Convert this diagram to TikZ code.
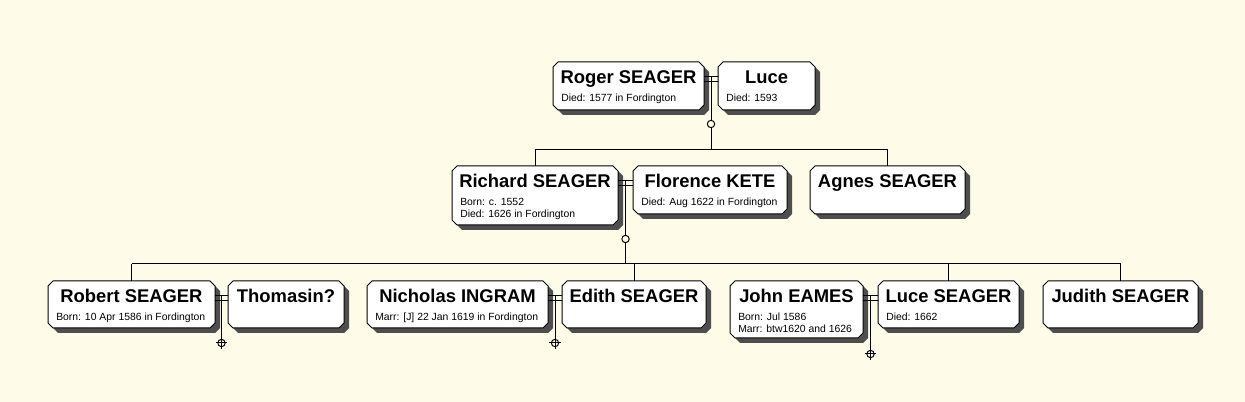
\documentclass[tikz,border=0pt]{standalone}
\usepackage{fontspec}
\setmainfont{Liberation Sans}
\usetikzlibrary{shadows, calc}

\definecolor{bg}{HTML}{FEFBE8}
\definecolor{shade}{HTML}{4E4E4E}

\newcommand\namefont{\fontsize{13.8}{16}\selectfont\bfseries}
\newcommand\infofont{\fontsize{7.8}{9}\selectfont}

% person card: id, left, top, width, height, name, details
\newcommand\person[7]{%
  \node[cardbox, minimum width=#4*0.75pt, minimum height=#5*0.75pt] (#1) at (#2+#4/2,#3+#5/2) {};
  \filldraw[card] ($(#1.north west)+(5,0)$) -- ($(#1.north east)+(-5,0)$) -- ($(#1.north east)+(0,5)$)
    -- ($(#1.south east)+(0,-5)$) -- ($(#1.south east)+(-5,0)$) -- ($(#1.south west)+(5,0)$)
    -- ($(#1.south west)+(0,-5)$) -- ($(#1.north west)+(0,5)$) -- cycle;
  \node[pname, anchor=base] (#1-n) at ($(#1.north)+(0,22)$) {#6};
  \if\relax\detokenize{#7}\relax\else
    \node[pinfo, anchor=north west] (#1-i) at ($(#1.north west)+(8,31.5)$) {#7};
  \fi}

% couple: id, husband, wife, y of upper marriage line
\newcommand\couple[4]{%
  \coordinate (#1) at ($(#2.east)!.5!(#3.west)$);
  \draw[link] (#2.east |- 0,#4) -- (#3.west |- 0,#4);
  \draw[link] (#2.east |- 0,#4+5) -- (#3.west |- 0,#4+5);}

\begin{document}
\begin{tikzpicture}[x=0.75pt, y=-0.75pt,
  cardbox/.style={rectangle, inner sep=0pt, outer sep=0pt},
  card/.style={draw=black, line width=0.75pt, fill=white,
    drop shadow={shadow xshift=3.75pt, shadow yshift=-3.75pt, opacity=1, fill=shade}},
  pname/.style={font=\namefont, inner sep=0pt},
  pinfo/.style={font=\infofont, align=left, inner sep=0pt},
  link/.style={line width=0.75pt, black},
  kids/.style={circle, draw=black, line width=0.75pt, fill=bg, inner sep=0pt, minimum size=5.5pt},
  nokids/.style={circle, draw=black, line width=0.75pt, inner sep=0pt, minimum size=5.5pt},
]
\fill[bg] (0,0) rectangle (1245,402);
\useasboundingbox (0,0) rectangle (1245,402);

% generation 1
\person{roger}{553}{62}{151}{48}{Roger SEAGER}{Died: 1577 in Fordington}
\person{luce}{718}{62}{97}{48}{Luce}{Died: 1593}
% generation 2
\person{richard}{452}{166}{166}{59}{Richard SEAGER}{Born: c. 1552\\Died: 1626 in Fordington}
\person{florence}{633}{166}{154}{48}{Florence KETE}{Died: Aug 1622 in Fordington}
\person{agnes}{810}{166}{155}{48}{Agnes SEAGER}{}
% generation 3
\person{robert}{48}{281}{167}{47}{Robert SEAGER}{Born: 10 Apr 1586 in Fordington}
\person{thomasin}{228}{281}{116}{47}{Thomasin?}{}
\person{nicholas}{367}{281}{181}{47}{Nicholas INGRAM}{Marr: [J] 22 Jan 1619 in Fordington}
\person{edith}{562}{281}{144}{47}{Edith SEAGER}{}
\person{john}{730}{281}{133}{57}{John EAMES}{Born: Jul 1586\\Marr: btw1620 and 1626}
\person{luces}{878}{281}{141}{47}{Luce SEAGER}{Died: 1662}
\person{judith}{1043}{281}{155}{47}{Judith SEAGER}{}

% Roger + Luce
\couple{rl}{roger}{luce}{77}
\node[kids] (rl-o) at (rl |- 0,124) {};
\coordinate (rl-s) at (rl |- 0,150);
\draw[link] (rl |- 0,77) -- (rl-o);
\draw[link] (rl-o) -- (rl-s);
\draw[link] (richard.north |- rl-s) -- (agnes.north |- rl-s);
\foreach \c in {richard,agnes} \draw[link] (\c.north |- rl-s) -- (\c.north);

% Richard + Florence
\couple{rf}{richard}{florence}{181}
\node[kids] (rf-o) at (rf |- 0,239) {};
\coordinate (rf-s) at (rf |- 0,264);
\draw[link] (rf |- 0,181) -- (rf-o);
\draw[link] (rf-o) -- (rf-s);
\draw[link] (robert.north |- rf-s) -- (judith.north |- rf-s);
\foreach \c in {robert,edith,luces,judith} \draw[link] (\c.north |- rf-s) -- (\c.north);

% childless couples
\couple{rt}{robert}{thomasin}{296}
\couple{ne}{nicholas}{edith}{296}
\couple{jl}{john}{luces}{296}
\foreach \a/\y in {rt/343,ne/343,jl/354}{
  \node[nokids] (\a-x) at (\a |- 0,\y) {};
  \draw[link] (\a |- 0,296) -- ([yshift=-1.2pt]\a-x.south);
  \draw[link] ([xshift=-1.2pt]\a-x.west) -- ([xshift=1.2pt]\a-x.east);
}
\end{tikzpicture}
\end{document}
